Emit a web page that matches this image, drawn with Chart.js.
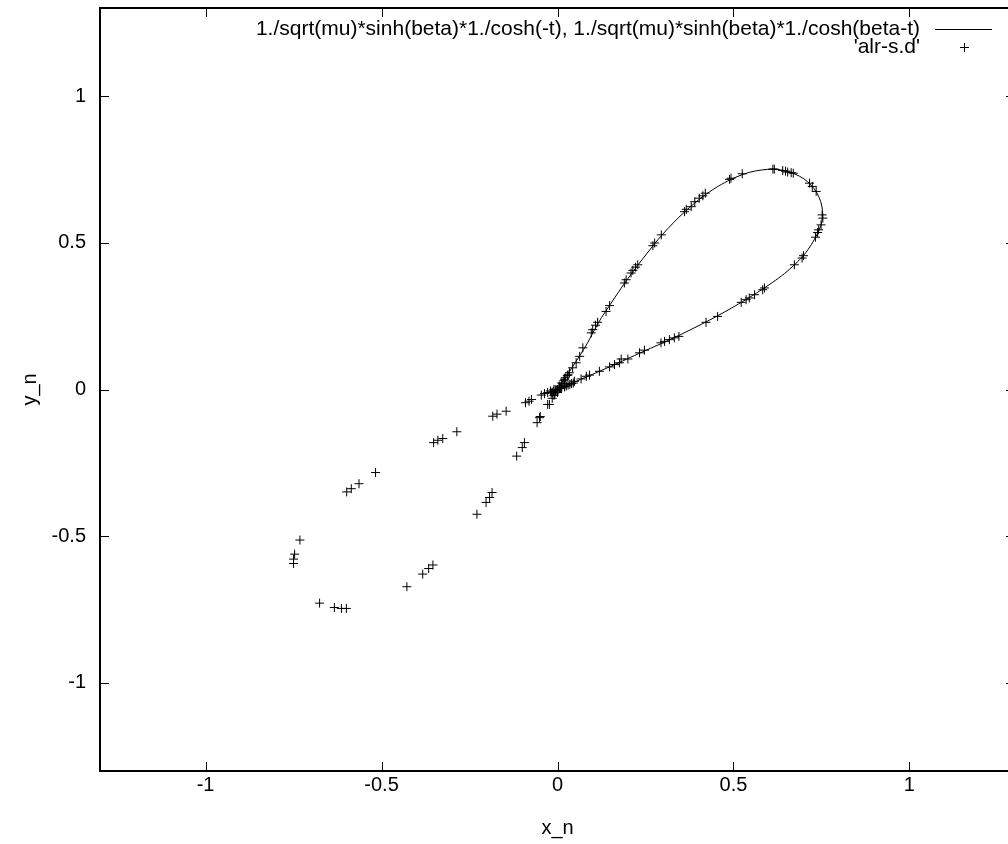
<!DOCTYPE html>
<html>
<head>
<meta charset="utf-8">
<script src="https://cdn.jsdelivr.net/npm/chart.js@4.4.1/dist/chart.umd.min.js"></script>
<style>
html,body{margin:0;padding:0;background:#fff;overflow:hidden;width:1008px;height:844px}
#wrap{width:1024px;height:844px}
</style>
</head>
<body>
<div id="wrap"><canvas id="c" width="1024" height="844"></canvas></div>
<script>
// ---- tick labels ----
const xTicks = [-1, -0.5, 0, 0.5, 1];
const yTicks = [-1, -0.5, 0, 0.5, 1];

// ---- series labels ----
const curveLabel = "1./sqrt(mu)*sinh(beta)*1./cosh(-t), 1./sqrt(mu)*sinh(beta)*1./cosh(beta-t)";
const dataLabel = "'alr-s.d'";

// ---- parametric curve ----
const curveX = [0, 0.010, 0.025, 0.043, 0.063, 0.085, 0.100, 0.125, 0.150, 0.175, 0.200, 0.228, 0.255, 0.285, 0.315, 0.345, 0.375, 0.405, 0.440, 0.475, 0.510, 0.545, 0.580, 0.612, 0.645, 0.675, 0.700, 0.720, 0.737, 0.748, 0.753, 0.753, 0.748, 0.738, 0.722, 0.700, 0.675, 0.645, 0.610, 0.575, 0.535, 0.495, 0.455, 0.410, 0.365, 0.320, 0.275, 0.230, 0.185, 0.140, 0.100, 0.065, 0.035, 0.015, 0];
const curveY = [0, 0.020, 0.045, 0.078, 0.115, 0.158, 0.192, 0.245, 0.290, 0.335, 0.378, 0.423, 0.465, 0.510, 0.550, 0.587, 0.620, 0.650, 0.680, 0.705, 0.725, 0.740, 0.748, 0.751, 0.746, 0.734, 0.718, 0.697, 0.670, 0.640, 0.610, 0.585, 0.558, 0.530, 0.495, 0.458, 0.427, 0.395, 0.364, 0.336, 0.306, 0.278, 0.251, 0.223, 0.196, 0.170, 0.146, 0.122, 0.097, 0.073, 0.052, 0.034, 0.018, 0.008, 0];

// ---- data points 'alr-s.d' ----
const dataX = [
 -0.286, -0.326, -0.340, -0.352, -0.517, -0.564, -0.586, -0.599,
 -0.732, -0.747, -0.750, -0.750, -0.676, -0.634, -0.614, -0.600,
 -0.428, -0.383, -0.366, -0.354,
 -0.184, -0.172, -0.146, -0.091, -0.081, -0.074, -0.046, -0.037, -0.028,
 -0.028, -0.051, -0.058, -0.094, -0.100, -0.116, -0.186, -0.193, -0.203, -0.229, -0.049, -0.023,
 -0.020, -0.015, -0.010, -0.005, 0.000, 0.005, 0.010, 0.008, 0.015, 0.012, 0.020, 0.018, 0.025, 0.022, 0.030, -0.010, -0.015, 0.000, 0.005, 0.035, 0.040,
 0.005, 0.012, 0.020, 0.028, 0.010, 0.020, 0.030, 0.045, -0.005, -0.012, -0.018, -0.008,
 0.034, 0.043, 0.053, 0.063, 0.072, 0.096, 0.100, 0.108, 0.114, 0.138, 0.148, 0.190, 0.195, 0.209, 0.214, 0.222, 0.228, 0.271, 0.276, 0.295, 0.361, 0.366, 0.380, 0.390, 0.403, 0.413, 0.420,
 0.489, 0.493, 0.525, 0.612, 0.616, 0.640, 0.648, 0.654, 0.664, 0.670, 0.716, 0.724, 0.735,
 0.752, 0.754, 0.749, 0.742, 0.739, 0.733, 0.699, 0.695, 0.673,
 0.588, 0.583, 0.560, 0.545, 0.536, 0.522, 0.455, 0.422, 0.345, 0.332, 0.318, 0.304, 0.294, 0.247, 0.233, 0.200, 0.181, 0.176, 0.162, 0.148, 0.119, 0.091, 0.082, 0.067, 0.048
];
const dataY = [
 -0.144, -0.167, -0.173, -0.181, -0.283, -0.321, -0.338, -0.349,
 -0.513, -0.561, -0.578, -0.593, -0.728, -0.743, -0.746, -0.746,
 -0.672, -0.629, -0.610, -0.598,
 -0.091, -0.084, -0.074, -0.045, -0.040, -0.034, -0.019, -0.014, -0.010,
 -0.051, -0.096, -0.113, -0.181, -0.198, -0.227, -0.351, -0.368, -0.385, -0.425, -0.092, -0.051,
 -0.005, -0.010, 0.000, -0.003, 0.000, 0.003, 0.010, 0.004, 0.020, 0.006, 0.010, 0.030, 0.012, 0.040, 0.050, -0.020, -0.030, -0.010, 0.012, 0.018, 0.020,
 0.008, 0.022, 0.035, 0.048, 0.004, 0.009, 0.015, 0.022, -0.008, -0.006, -0.012, -0.015,
 0.057, 0.074, 0.091, 0.113, 0.142, 0.193, 0.204, 0.219, 0.229, 0.266, 0.286, 0.363, 0.374, 0.397, 0.406, 0.417, 0.425, 0.490, 0.499, 0.527, 0.606, 0.614, 0.623, 0.640, 0.652, 0.660, 0.669,
 0.716, 0.720, 0.735, 0.751, 0.751, 0.746, 0.744, 0.741, 0.739, 0.737, 0.703, 0.692, 0.675,
 0.595, 0.584, 0.561, 0.544, 0.535, 0.519, 0.456, 0.448, 0.425,
 0.346, 0.340, 0.323, 0.312, 0.306, 0.297, 0.249, 0.229, 0.181, 0.176, 0.170, 0.164, 0.159, 0.134, 0.125, 0.104, 0.104, 0.091, 0.085, 0.077, 0.062, 0.049, 0.045, 0.036, 0.028
];

const FAMILY = "'Liberation Sans', Arial, Helvetica, sans-serif";
const FONT = {family: FAMILY, size: 20};
const KEY_FONT_SIZE = 21;

const curvePts = curveX.map((x, i) => ({x: x, y: curveY[i]}));
const dataPts = dataX.map((x, i) => ({x: x, y: dataY[i]}));

const framePlugin = {
  id: 'gnuframe',
  afterDatasetsDraw(chart) {
    const {ctx, chartArea: a, scales: {x, y}} = chart;
    ctx.save();
    ctx.strokeStyle = '#000';
    ctx.lineWidth = 1;
    const tl = 9;
    ctx.beginPath();
    xTicks.forEach(v => {
      const px = Math.round(x.getPixelForValue(v)) + 0.5;
      ctx.moveTo(px, a.bottom); ctx.lineTo(px, a.bottom - tl);
      ctx.moveTo(px, a.top); ctx.lineTo(px, a.top + tl);
    });
    yTicks.forEach(v => {
      const py = Math.round(y.getPixelForValue(v)) + 0.5;
      ctx.moveTo(a.left, py); ctx.lineTo(a.left + tl, py);
      ctx.moveTo(a.right, py); ctx.lineTo(a.right - tl, py);
    });
    ctx.stroke();
    ctx.lineWidth = 2;
    ctx.strokeRect(a.left, a.top, a.right - a.left, a.bottom - a.top);
    // key (gnuplot style)
    ctx.font = KEY_FONT_SIZE + 'px ' + FAMILY;
    ctx.fillStyle = '#000';
    ctx.textAlign = 'right';
    ctx.textBaseline = 'middle';
    const tx = a.right - 95, sx0 = a.right - 80, sx1 = a.right - 23;
    const y1 = a.top + 21, y2 = a.top + 39;
    ctx.fillText(chart.data.datasets[0].label, tx, y1);
    ctx.fillText(chart.data.datasets[1].label, tx, y2);
    ctx.lineWidth = 1;
    ctx.beginPath();
    ctx.moveTo(sx0, y1 + 0.5); ctx.lineTo(sx1, y1 + 0.5);
    const cx = Math.round((sx0 + sx1) / 2) + 0.5, cy = Math.round(y2) + 0.5;
    ctx.moveTo(cx - 4.5, cy); ctx.lineTo(cx + 4.5, cy);
    ctx.moveTo(cx, cy - 4.5); ctx.lineTo(cx, cy + 4.5);
    ctx.stroke();
    ctx.restore();
  }
};

new Chart(document.getElementById('c'), {
  type: 'scatter',
  data: {
    datasets: [
      {label: curveLabel, data: curvePts, showLine: true, borderColor: '#000', borderWidth: 1,
       pointRadius: 0, tension: 0.3, fill: false},
      {label: dataLabel, data: dataPts, showLine: false, pointStyle: 'cross', pointRadius: 4.5,
       borderColor: '#000', backgroundColor: '#000', borderWidth: 1}
    ]
  },
  options: {
    responsive: false,
    animation: false,
    devicePixelRatio: 1,
    layout: {padding: {top: 8, right: 9, left: 0, bottom: 0}},
    plugins: {legend: {display: false}, tooltip: {enabled: false}},
    scales: {
      x: {
        type: 'linear', position: 'bottom', min: -1.3, max: 1.3,
        afterBuildTicks: s => { s.ticks = xTicks.map(v => ({value: v})); },
        afterFit: s => { s.height = 73; s.paddingLeft = 0; s.paddingRight = 0; },
        grid: {display: true, drawOnChartArea: false, drawTicks: false},
        border: {display: false},
        ticks: {font: FONT, color: '#000', padding: 2, maxRotation: 0, autoSkip: false,
                callback: v => String(v)},
        title: {display: true, text: 'x_n', font: FONT, color: '#000', padding: {top: 0, bottom: 4}}
      },
      y: {
        type: 'linear', position: 'left', min: -1.3, max: 1.3,
        afterBuildTicks: s => { s.ticks = yTicks.map(v => ({value: v})); },
        afterFit: s => { s.width = 100; s.paddingTop = 0; s.paddingBottom = 0; },
        grid: {display: true, drawOnChartArea: false, drawTicks: false},
        border: {display: false},
        ticks: {font: FONT, color: '#000', padding: 14, autoSkip: false,
                callback: v => String(v)},
        title: {display: true, text: 'y_n', font: FONT, color: '#000', padding: {top: 18, bottom: 0}}
      }
    }
  },
  plugins: [framePlugin]
});
</script>
</body>
</html>
